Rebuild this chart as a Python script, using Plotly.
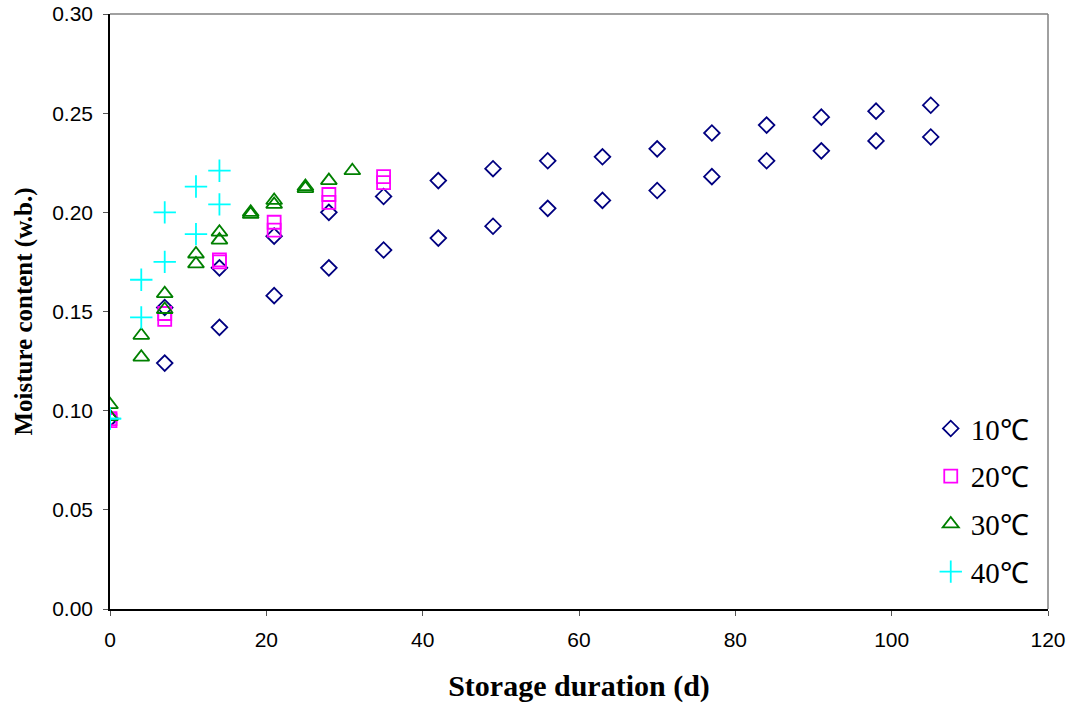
import plotly.graph_objects as go

# ---- data ----
days_10 = [0, 7, 14, 21, 28, 35, 42, 49, 56, 63, 70, 77, 84, 91, 98, 105,
           0, 7, 14, 21, 28, 35, 42, 49, 56, 63, 70, 77, 84, 91, 98, 105]
mc_10 = [0.096, 0.152, 0.172, 0.188, 0.200, 0.208, 0.216, 0.222, 0.226, 0.228, 0.232, 0.240, 0.244, 0.248, 0.251, 0.254,
         0.096, 0.124, 0.142, 0.158, 0.172, 0.181, 0.187, 0.193, 0.202, 0.206, 0.211, 0.218, 0.226, 0.231, 0.236, 0.238]

days_20 = [0, 7, 14, 21, 28, 35,
           0, 7, 14, 21, 28, 35]
mc_20 = [0.096, 0.149, 0.176, 0.195, 0.209, 0.218,
         0.095, 0.146, 0.175, 0.191, 0.205, 0.215]

days_30 = [0, 4, 7, 11, 14, 18, 21, 25, 28, 31,
           0, 4, 7, 11, 14, 18, 21, 25]
mc_30 = [0.103, 0.138, 0.159, 0.179, 0.190, 0.200, 0.206, 0.213, 0.216, 0.221,
         0.097, 0.127, 0.151, 0.174, 0.186, 0.199, 0.204, 0.212]

days_40 = [0, 4, 7, 11, 14,
           0, 4, 7, 11, 14]
mc_40 = [0.096, 0.166, 0.200, 0.213, 0.221,
         0.096, 0.147, 0.175, 0.189, 0.204]

x_ticks = [0, 20, 40, 60, 80, 100, 120]
y_ticks = [0.00, 0.05, 0.10, 0.15, 0.20, 0.25, 0.30]
y_tick_labels = ["0.00", "0.05", "0.10", "0.15", "0.20", "0.25", "0.30"]

series = [
    ("10℃", days_10, mc_10, "diamond-open", "#000080", 12),
    ("20℃", days_20, mc_20, "square-open", "#FF00FF", 13),
    ("30℃", days_30, mc_30, "triangle-up-open", "#008000", 14),
    ("40℃", days_40, mc_40, "cross-thin-open", "#00FFFF", 16),
]

serif = "Liberation Serif, Times New Roman, serif"
sans = "Liberation Sans, Arial, sans-serif"

fig = go.Figure()
for name, xs, ys, sym, col, size in series:
    fig.add_trace(go.Scatter(
        x=xs, y=ys, mode="markers", name=name, legendgroup=name,
        marker=dict(symbol=sym, size=size, color=col,
                    line=dict(color=col, width=1.8)),
    ))

fig.update_layout(
    width=1071, height=707,
    margin=dict(l=110, r=23, t=14, b=98),
    paper_bgcolor="white", plot_bgcolor="white",
    showlegend=True,
    legend=dict(
        x=0.875, y=0.346, xanchor="left", yanchor="top",
        font=dict(family=serif, size=29, color="black"),
        bgcolor="rgba(0,0,0,0)", borderwidth=0,
        traceorder="grouped", tracegroupgap=7,
        itemwidth=30,
    ),
    xaxis=dict(
        range=[0, 120], tickvals=x_ticks, ticks="outside", ticklen=5,
        tickcolor="#555", showgrid=False, zeroline=False,
        showline=True, linecolor="black", linewidth=1.5,
        ticklabelstandoff=6, automargin=False,
        tickfont=dict(family=sans, size=21, color="black"),
        title=dict(text="<b>Storage duration (d)</b>",
                   font=dict(family=serif, size=30, color="black"),
                   standoff=25),
    ),
    yaxis=dict(
        range=[0, 0.30], tickvals=y_ticks, ticktext=y_tick_labels,
        ticks="outside", ticklen=5, tickcolor="#555",
        showgrid=False, zeroline=False,
        showline=True, linecolor="black", linewidth=1.5,
        ticklabelstandoff=6, automargin=False,
        tickfont=dict(family=sans, size=21, color="black"),
        title=dict(text="<b>Moisture content (w.b.)</b>",
                   font=dict(family=serif, size=25, color="black"),
                   standoff=12),
    ),
    shapes=[
        dict(type="line", xref="paper", yref="paper", x0=0, x1=1, y0=1, y1=1,
             line=dict(color="#808080", width=1.5)),
        dict(type="line", xref="paper", yref="paper", x0=1, x1=1, y0=0, y1=1,
             line=dict(color="#808080", width=1.5)),
    ],
)

fig.write_html("out.html")
